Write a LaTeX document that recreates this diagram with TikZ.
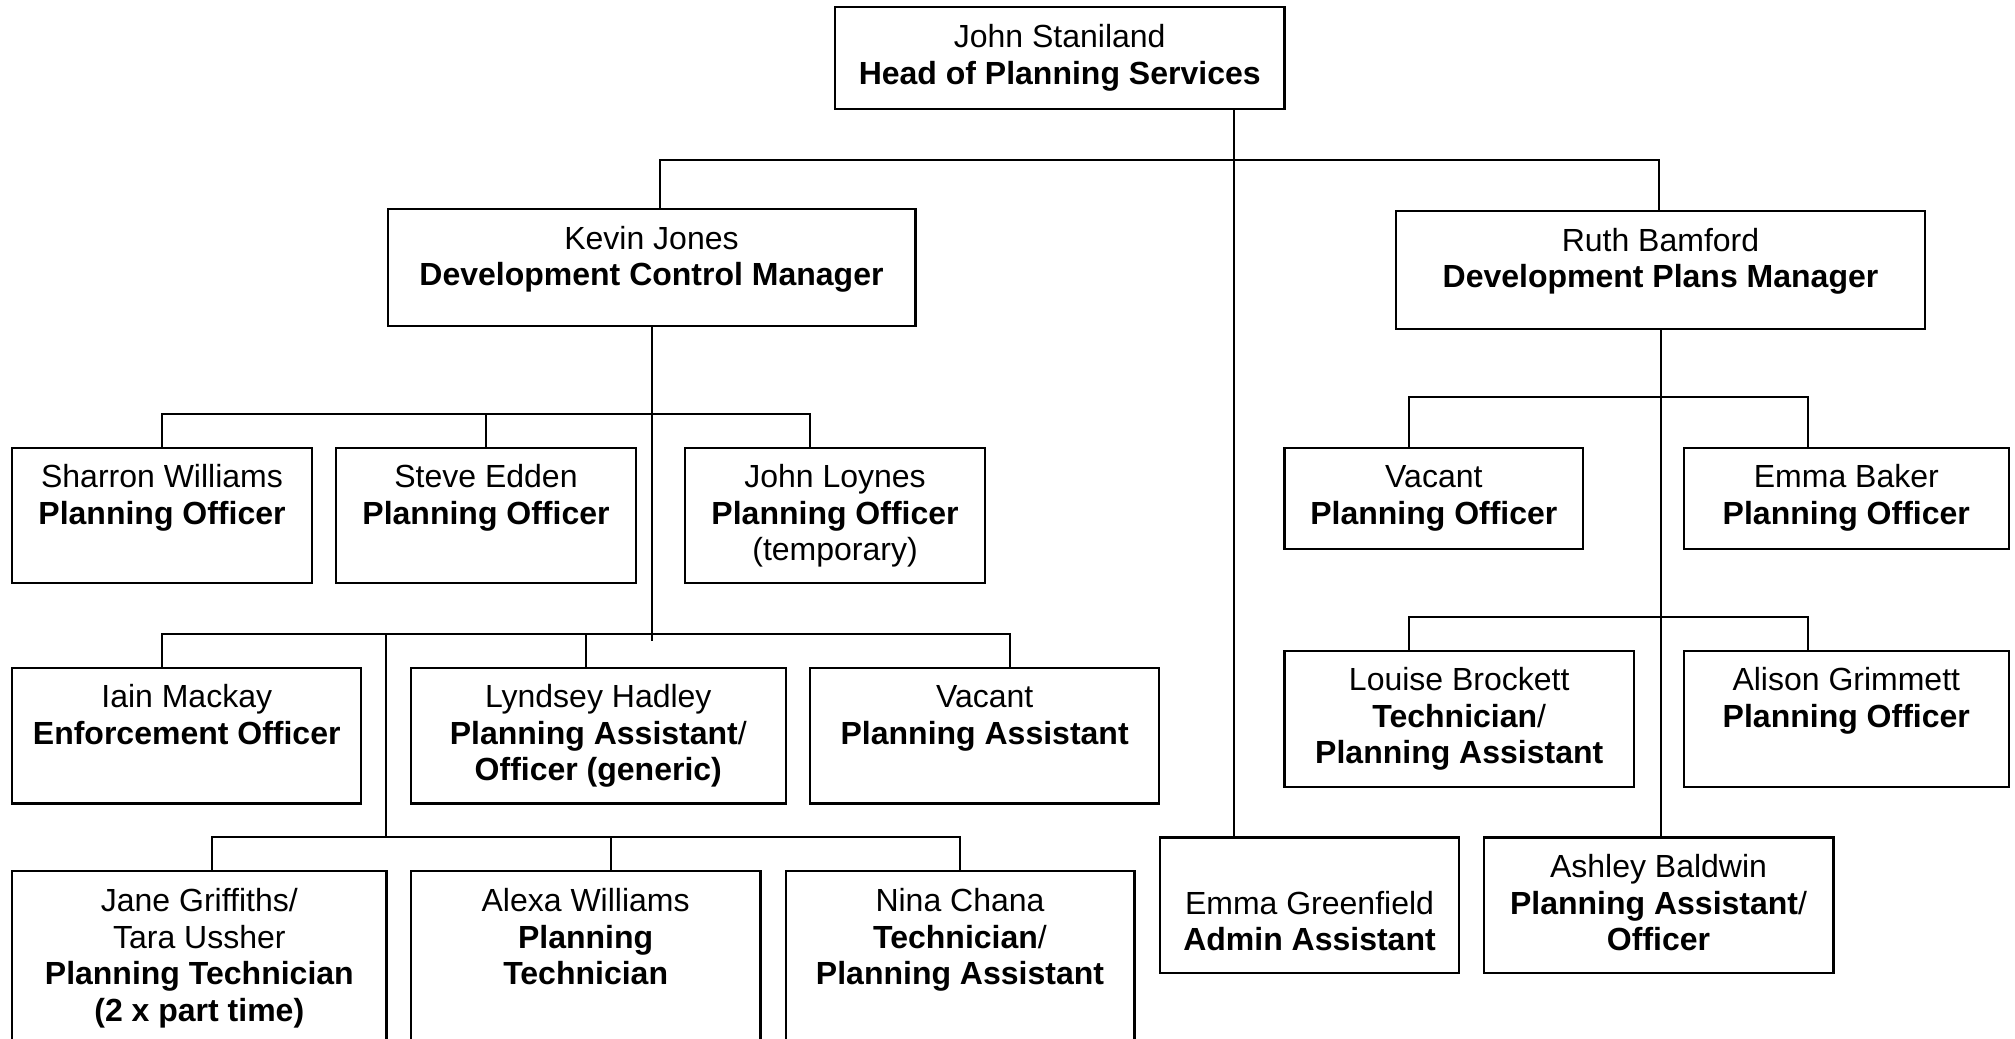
\documentclass[tikz,border=0pt]{standalone}
\usepackage{fontspec}
\setmainfont{Liberation Sans}
\usetikzlibrary{fit,calc}
\newcommand\lns[1]{\begin{tabular}[t]{@{}c@{}}#1\end{tabular}}
\tikzset{
  orgbox/.style={draw, rectangle, line width=1.1pt, inner sep=0pt, outer sep=0pt},
  txt/.style={anchor=base, inner sep=0pt, outer sep=0pt, font=\fontsize{16}{18.3}\selectfont},
  conn/.style={line width=1pt}
}
\begin{document}
\begin{tikzpicture}[x=0.5pt, y=-0.5pt]
\clip (0,0) rectangle (2015,1039);
\fill[white] (0,0) rectangle (2015,1039);

% boxes
\node[orgbox, fit={(835,7.3) (1284.4,109)}] (jst) {};
\node[orgbox, fit={(387.6,208.7) (915.4,326.3)}] (kj) {};
\node[orgbox, fit={(1396.3,210.7) (1924.7,328.7)}] (rb) {};
\node[orgbox, fit={(12.2,448) (311.8,583.3)}] (sw) {};
\node[orgbox, fit={(336.2,448) (635.8,583.3)}] (se) {};
\node[orgbox, fit={(685.3,448) (984.8,583.3)}] (jl) {};
\node[orgbox, fit={(1284.4,448) (1583.3,549.3)}] (vpo) {};
\node[orgbox, fit={(1683.6,448) (2009,549.3)}] (eb) {};
\node[orgbox, fit={(12.2,668) (361.3,803.5)}] (im) {};
\node[orgbox, fit={(411,668) (785.6,803.5)}] (lh) {};
\node[orgbox, fit={(810,668) (1159.3,803.5)}] (vpa) {};
\node[orgbox, fit={(1284.4,651) (1634.1,786.7)}] (lb) {};
\node[orgbox, fit={(1683.6,651) (2009,786.7)}] (ag) {};
\node[orgbox, fit={(12.2,871) (386.4,1080)}] (jg) {};
\node[orgbox, fit={(410.8,871) (760.5,1080)}] (aw) {};
\node[orgbox, fit={(785.6,871) (1134.4,1080)}] (nc) {};
\node[orgbox, fit={(1159.7,837.5) (1459.3,972.7)}] (eg) {};
\node[orgbox, fit={(1483.7,837.5) (1833.4,972.7)}] (ab) {};

% texts
\node[txt] (jst-t) at ($(jst.north)+(0,40.5)$) {\lns{John Staniland\\ \textbf{Head of Planning Services}}};
\node[txt] (kj-t) at ($(kj.north)+(0,40.5)$) {\lns{Kevin Jones\\ \textbf{Development Control Manager}}};
\node[txt] (rb-t) at ($(rb.north)+(0,40.5)$) {\lns{Ruth Bamford\\ \textbf{Development Plans Manager}}};
\node[txt] (sw-t) at ($(sw.north)+(0,39.5)$) {\lns{Sharron Williams\\ \textbf{Planning Officer}}};
\node[txt] (se-t) at ($(se.north)+(0,39.5)$) {\lns{Steve Edden\\ \textbf{Planning Officer}}};
\node[txt] (jl-t) at ($(jl.north)+(0,39.5)$) {\lns{John Loynes\\ \textbf{Planning Officer}\\ (temporary)}};
\node[txt] (vpo-t) at ($(vpo.north)+(0,39.5)$) {\lns{Vacant\\ \textbf{Planning Officer}}};
\node[txt] (eb-t) at ($(eb.north)+(0,39.5)$) {\lns{Emma Baker\\ \textbf{Planning Officer}}};
\node[txt] (im-t) at ($(im.north)+(0,39.5)$) {\lns{Iain Mackay\\ \textbf{Enforcement Officer}}};
\node[txt] (lh-t) at ($(lh.north)+(0,39.5)$) {\lns{Lyndsey Hadley\\ \textbf{Planning Assistant}/\\ \textbf{Officer (generic)}}};
\node[txt] (vpa-t) at ($(vpa.north)+(0,39.5)$) {\lns{Vacant\\ \textbf{Planning Assistant}}};
\node[txt] (lb-t) at ($(lb.north)+(0,39.5)$) {\lns{Louise Brockett\\ \textbf{Technician}/\\ \textbf{Planning Assistant}}};
\node[txt] (ag-t) at ($(ag.north)+(0,39.5)$) {\lns{Alison Grimmett\\ \textbf{Planning Officer}}};
\node[txt] (jg-t) at ($(jg.north)+(0,40.5)$) {\lns{Jane Griffiths/\\ Tara Ussher\\ \textbf{Planning Technician}\\ \textbf{(2 x part time)}}};
\node[txt] (aw-t) at ($(aw.north)+(0,40.5)$) {\lns{Alexa Williams\\ \textbf{Planning}\\ \textbf{Technician}}};
\node[txt] (nc-t) at ($(nc.north)+(0,40.5)$) {\lns{Nina Chana\\ \textbf{Technician}/\\ \textbf{Planning Assistant}}};
\node[txt] (eg-t) at ($(eg.north)+(0,76.5)$) {\lns{Emma Greenfield\\ \textbf{Admin Assistant}}};
\node[txt] (ab-t) at ($(ab.north)+(0,40)$) {\lns{Ashley Baldwin\\ \textbf{Planning Assistant}/\\ \textbf{Officer}}};

% connectors: head
\coordinate (tx) at ($(jst.south east)+(-50,0)$);
\draw[conn] (tx) -- (tx |- eg.north);
\coordinate (bus1) at ($(jst.south)+(0,51)$);
\draw[conn] ($(kj.north)+(8.5,0)$) |- (bus1) -| ($(rb.north)+(-2,0)$);

% Kevin Jones
\draw[conn] (kj.south) -- ($(kj.south)+(0,314.4)$);
\coordinate (bus2) at ($(kj.south)+(0,87.7)$);
\draw[conn] (sw.north) |- (bus2) -| ($(jl.north)+(-25,0)$);
\draw[conn] (se.north) -- (se.north |- bus2);
\coordinate (bus3) at ($(kj.south)+(0,308)$);
\draw[conn] ($(im.north)+(-24.8,0)$) |- (bus3) -| ($(vpa.north)+(25.2,0)$);
\coordinate (lhx) at ($(lh.north)+(-12.3,0)$);
\draw[conn] (lhx) -- (lhx |- bus3);
\coordinate (bus4) at ($(jg.north east)+(0,-33.7)$);
\draw[conn] (bus3 -| bus4) -- (bus4);
\draw[conn] ($(jg.north)+(12.2,0)$) |- (bus4) -| (nc.north);
\coordinate (awx) at ($(aw.north)+(25,0)$);
\draw[conn] (awx) -- (awx |- bus4);

% Ruth Bamford
\draw[conn] (rb.south) -- (rb.south |- ab.north);
\coordinate (bus5) at ($(rb.south)+(0,68)$);
\draw[conn] ($(vpo.north)+(-24.9,0)$) |- (bus5) -| ($(eb.north)+(-38,0)$);
\coordinate (bus6) at ($(rb.south)+(0,288.6)$);
\draw[conn] ($(lb.north)+(-50.3,0)$) |- (bus6) -| ($(ag.north)+(-38,0)$);
\end{tikzpicture}
\end{document}
